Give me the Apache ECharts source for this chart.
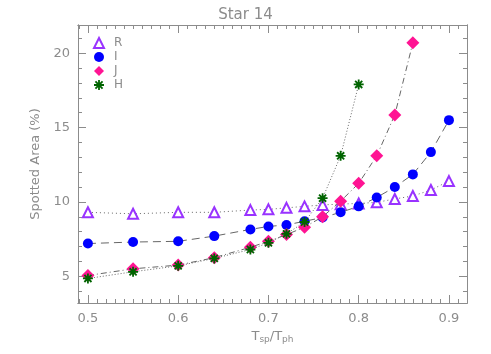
<!DOCTYPE html>
<html><head><meta charset="utf-8">
<script src="https://cdn.jsdelivr.net/npm/echarts@6/dist/echarts.min.js"></script>
<style>html,body{margin:0;padding:0;background:#fff}#c{width:491px;height:354px}</style>
</head><body><div id="c"></div>
<script>
const xR = [0.5,0.55,0.6,0.64,0.68,0.7,0.72,0.74,0.76,0.78,0.8,0.82,0.84,0.86,0.88,0.9];
const yR = [9.3,9.2,9.3,9.3,9.45,9.5,9.6,9.7,9.8,9.85,9.9,9.97,10.2,10.4,10.8,11.4];
const xI = [0.5,0.55,0.6,0.64,0.68,0.7,0.72,0.74,0.76,0.78,0.8,0.82,0.84,0.86,0.88,0.9];
const yI = [7.2,7.3,7.35,7.7,8.15,8.35,8.45,8.7,8.95,9.3,9.7,10.3,11.0,11.85,13.35,15.5];
const xJ = [0.5,0.55,0.6,0.64,0.68,0.7,0.72,0.74,0.76,0.78,0.8,0.82,0.84,0.86];
const yJ = [5.05,5.5,5.75,6.25,6.95,7.35,7.8,8.3,9.0,10.05,11.25,13.1,15.85,20.7];
const xH = [0.5,0.55,0.6,0.64,0.68,0.7,0.72,0.74,0.76,0.78,0.8];
const yH = [4.85,5.3,5.7,6.2,6.8,7.25,7.85,8.65,10.25,13.1,17.9];
const xMajor = [0.5,0.6,0.7,0.8,0.9];
const yMajor = [5,10,15,20];
const xMin = 0.489, xMax = 0.92, yMin = 3.2, yMax = 21.9;

const xMinor = []; for (let i = 49; i <= 92; i++) xMinor.push(i/100);
const yMinor = []; for (let i = 4; i <= 21; i++) yMinor.push(i);

const gray = '#8c8c8c';
const font = 'DejaVu Sans';
const star = 'path://M-0.9,-5 L0.9,-5 L0.9,5 L-0.9,5 Z M-5,-0.9 L5,-0.9 L5,0.9 L-5,0.9 Z M-4.2,-2.9 L-2.9,-4.2 L4.2,2.9 L2.9,4.2 Z M2.9,-4.2 L4.2,-2.9 L-2.9,4.2 L-4.2,2.9 Z';

function pairs(xs, ys){ return xs.map((x,i)=>[x, ys[i]]); }
function xa(pos, vals, len, labels){
  return {type:'value', position:pos, min:xMin, max:xMax, gridIndex:0,
    axisLine:{show:true, onZero:false, lineStyle:{color:gray}},
    axisTick:{show:true, inside:true, length:len, customValues:vals, lineStyle:{color:gray}},
    axisLabel:labels?{show:true, customValues:xMajor, color:gray, fontFamily:font, fontSize:13, margin:9,
      formatter:v=>v.toFixed(1)}:{show:false},
    splitLine:{show:false}};
}
function ya(pos, vals, len, labels){
  return {type:'value', position:pos, min:yMin, max:yMax, gridIndex:0,
    axisLine:{show:true, onZero:false, lineStyle:{color:gray}},
    axisTick:{show:true, inside:true, length:len, customValues:vals, lineStyle:{color:gray}},
    axisLabel:labels?{show:true, customValues:yMajor, color:gray, fontFamily:font, fontSize:13, margin:8}:{show:false},
    splitLine:{show:false}};
}
const xb = xa('bottom', xMajor, 8, true);
xb.name = '{t|T}{s|sp}{t|/T}{s|ph}';
xb.nameLocation = 'middle'; xb.nameGap = 26;
xb.nameTextStyle = {rich:{t:{color:gray, fontFamily:font, fontSize:13}, s:{color:gray, fontFamily:font, fontSize:9, verticalAlign:'bottom', padding:[6,0,0,0]}}};
const yl = ya('left', yMajor, 8, true);
yl.name = 'Spotted Area (%)'; yl.nameLocation='middle'; yl.nameGap = 30;
yl.nameTextStyle = {color:gray, fontFamily:font, fontSize:13};

const lc = '#666';
const option = {
  animation:false,
  title:{text:'Star 14', left:'center', top:3, textStyle:{color:gray, fontFamily:font, fontSize:15, fontWeight:'normal'}},
  grid:{left:78, right:24, top:25, bottom:51},
  legend:{orient:'vertical', left:93, top:36, padding:0, itemWidth:10, itemHeight:10, itemGap:0,
    textStyle:{color:gray, fontFamily:font, fontSize:12, lineHeight:14, padding:[0,0,0,5]},
    data:[{name:'R', icon:'emptyTriangle'},{name:'I', icon:'circle'},{name:'J', icon:'diamond'},{name:'H', icon:star}]},
  xAxis:[xb, xa('bottom', xMinor, 4, false), xa('top', xMajor, 8, false), xa('top', xMinor, 4, false)],
  yAxis:[yl, ya('left', yMinor, 4, false), ya('right', yMajor, 8, false), ya('right', yMinor, 4, false)],
  series:[
    {name:'R', type:'line', data:pairs(xR,yR), symbol:'emptyTriangle', symbolSize:10,
      itemStyle:{color:'#9933ff', borderWidth:1.3}, lineStyle:{color:lc, width:1, type:[1,3]}, z:2},
    {name:'I', type:'line', data:pairs(xI,yI), symbol:'circle', symbolSize:10,
      itemStyle:{color:'#0000ff'}, lineStyle:{color:lc, width:1, type:[8,5]}, z:3},
    {name:'J', type:'line', data:pairs(xJ,yJ), symbol:'diamond', symbolSize:13,
      itemStyle:{color:'#ff1493'}, lineStyle:{color:lc, width:1, type:[6,3,1,3]}, z:4},
    {name:'H', type:'line', data:pairs(xH,yH), symbol:star, symbolSize:10,
      itemStyle:{color:'#006400'}, lineStyle:{color:lc, width:1, type:[1,2]}, z:5}
  ]
};
echarts.init(document.getElementById('c')).setOption(option);
</script></body></html>
